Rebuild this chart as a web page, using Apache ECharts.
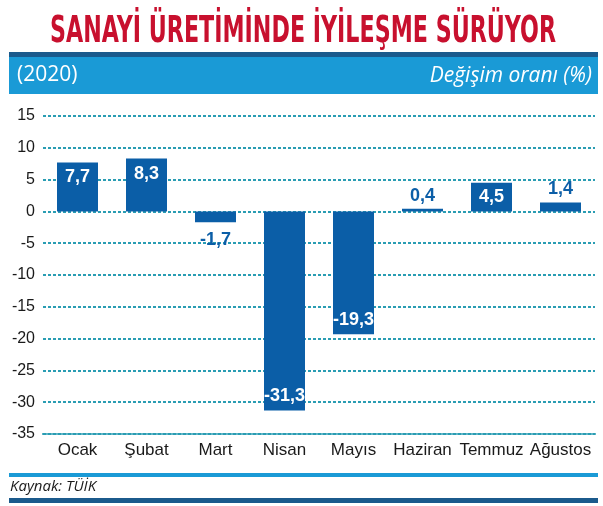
<!DOCTYPE html>
<html lang="tr">
<head>
<meta charset="UTF-8">
<title>Sanayi üretimi</title>
<script src="https://cdn.jsdelivr.net/npm/echarts@6/dist/echarts.min.js"></script>
<style>
  html, body { margin: 0; padding: 0; background: #fff; }
  #chart { width: 603px; height: 506px; }
</style>
</head>
<body>
<div id="chart"></div>
<script type="text/javascript">
    // veriler
    var months = ['Ocak', 'Şubat', 'Mart', 'Nisan', 'Mayıs', 'Haziran', 'Temmuz', 'Ağustos'];
    var changes = [7.7, 8.3, -1.7, -31.3, -19.3, 0.4, 4.5, 1.4];
    var yTicks = { min: -35, max: 15, step: 5 };

    var narrow = '"Liberation Sans", Arial, sans-serif';
    var barBlue = '#0b5ea7';
    var teal = '#2a9db3';

    // etiket yeri: buyuk sutunlarda icerde beyaz, kucuklerde disarida mavi
    function labelFor(v) {
        if (v >= 5) return { position: 'insideTop', distance: 6, color: '#fff' };
        if (v >= 3) return { position: 'inside', color: '#fff' };
        if (v >= 0) return { position: 'top', distance: 4, color: barBlue };
        if (v > -3) return { position: 'bottom', distance: 9, color: barBlue };
        return { position: 'insideBottom', distance: 5, color: '#fff' };
    }

    var barData = changes.map(function (v) {
        return { value: v, label: labelFor(v) };
    });

    var option = {
        backgroundColor: '#fff',
        animation: false,
        grid: { left: 43, right: 8, top: 116, bottom: 72 },
        xAxis: {
            type: 'category',
            data: months,
            position: 'bottom',
            axisLine: { onZero: false, lineStyle: { color: teal, width: 2, type: [3, 2] } },
            axisTick: { inside: true, length: 8, lineStyle: { color: teal, width: 2 } },
            axisLabel: { interval: 0, color: '#1a1a1a', fontFamily: narrow, fontSize: 17, margin: 8 }
        },
        yAxis: {
            type: 'value',
            min: yTicks.min,
            max: yTicks.max,
            interval: yTicks.step,
            axisLine: { show: false },
            axisTick: { show: false },
            axisLabel: { color: '#1a1a1a', fontFamily: narrow, fontSize: 16, margin: 8 },
            splitLine: { lineStyle: { color: teal, width: 2, type: [3, 2] } }
        },
        series: [{
            type: 'bar',
            data: barData,
            barWidth: 41,
            itemStyle: { color: barBlue },
            label: {
                show: true,
                fontFamily: narrow,
                fontWeight: 'bold',
                fontSize: 18,
                formatter: function (p) { return String(p.value).replace('.', ','); }
            }
        }],
        graphic: [
            {
                type: 'text', x: 303, y: 14, scaleX: 0.6,
                style: {
                    text: 'SANAYİ ÜRETİMİNDE İYİLEŞME SÜRÜYOR',
                    textAlign: 'center', textVerticalAlign: 'top',
                    fill: '#c8102e', font: 'bold 37px "DejaVu Sans", sans-serif'
                }
            },
            { type: 'rect', shape: { x: 9, y: 52, width: 589, height: 5 }, style: { fill: '#1b5a8c' } },
            { type: 'rect', shape: { x: 9, y: 57, width: 589, height: 37 }, style: { fill: '#1a9ad6' } },
            {
                type: 'text', left: 17, top: 65,
                style: { text: '(2020)', fill: '#fff', font: '21px "Open Sans", sans-serif' }
            },
            {
                type: 'text', right: 11, top: 66,
                style: { text: 'Değişim oranı (%)', fill: '#fff', font: 'italic 21px "Open Sans", sans-serif' }
            },
            { type: 'rect', shape: { x: 9, y: 473, width: 589, height: 4 }, style: { fill: '#1a9ad6' } },
            {
                type: 'text', left: 10, top: 479,
                style: { text: 'Kaynak: TÜİK', fill: '#1a1a1a', font: 'italic 15px "Open Sans", sans-serif' }
            },
            { type: 'rect', shape: { x: 9, y: 498, width: 589, height: 5 }, style: { fill: '#1b5a8c' } }
        ]
    };

    var chart = echarts.init(document.getElementById('chart'));
    chart.setOption(option);
</script>
</body>
</html>
